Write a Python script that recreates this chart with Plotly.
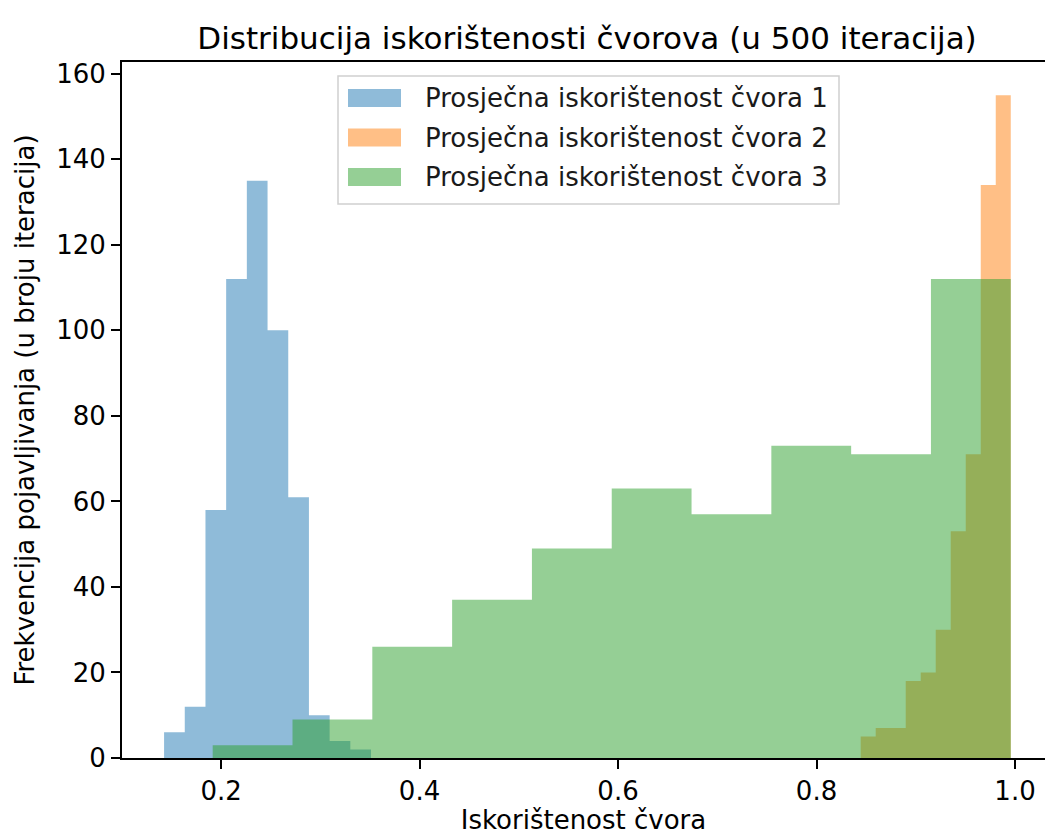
import numpy as np
import plotly.graph_objects as go

# Data (10 bins per series)
series_names = [
    "Prosječna iskorištenost čvora 1",
    "Prosječna iskorištenost čvora 2",
    "Prosječna iskorištenost čvora 3",
]
counts_1 = [6, 12, 58, 112, 135, 100, 61, 10, 4, 2]
counts_2 = [5, 7, 7, 18, 20, 30, 53, 71, 134, 155]
counts_3 = [3, 9, 26, 37, 49, 63, 57, 73, 71, 112]
range_1 = [0.1426, 0.3511]
range_2 = [0.8445, 0.9957]
range_3 = [0.1916, 0.9957]

x_ticks = [0.2, 0.4, 0.6, 0.8, 1.0]
y_ticks = [0, 20, 40, 60, 80, 100, 120, 140, 160]

fill_colors = ["rgba(31,119,180,0.5)", "rgba(255,127,14,0.5)", "rgba(44,160,44,0.5)"]
FONT = "DejaVu Sans"

# plot area in page pixels (page body margin removed below)
PL, PR, PT, PB = 122, 1045, 62, 758
PW, PH = PR - PL, PB - PT


def px_to_paper(sx, sy):
    return (sx - PL) / PW, (PB - sy) / PH


fig = go.Figure()
for name, counts, rng, col in zip(series_names, [counts_1, counts_2, counts_3],
                                  [range_1, range_2, range_3], fill_colors):
    edges = np.linspace(rng[0], rng[1], len(counts) + 1)
    ys = list(counts) + [counts[-1]]
    fig.add_trace(go.Scatter(
        x=edges, y=ys, name=name, mode="lines", line=dict(width=0, shape="hv"),
        fill="tozeroy", fillcolor=col, showlegend=False, hoverinfo="skip",
    ))

# legend (drawn as a box with colour swatches and text labels)
shapes = []
annotations = []
bx0, by0 = px_to_paper(338, 204)
bx1, by1 = px_to_paper(839, 76)
shapes.append(dict(type="rect", xref="paper", yref="paper", x0=bx0, y0=by0, x1=bx1, y1=by1,
                   line=dict(color="#d0d0d0", width=1.5), fillcolor="rgba(255,255,255,0.8)",
                   layer="above"))
row_centers = [98, 137.5, 177]
for name, col, cy in zip(series_names, fill_colors, row_centers):
    sx0, sy0 = px_to_paper(348, cy + 9)
    sx1, sy1 = px_to_paper(401, cy - 9)
    shapes.append(dict(type="rect", xref="paper", yref="paper", x0=sx0, y0=sy0, x1=sx1, y1=sy1,
                       line=dict(width=0), fillcolor=col, layer="above"))
    tx, ty = px_to_paper(423, cy)
    annotations.append(dict(text=name, xref="paper", yref="paper", x=tx, y=ty,
                            xanchor="left", yanchor="middle", showarrow=False,
                            font=dict(family=FONT, size=26, color="#1a1a1a")))

fig.update_layout(
    width=1045, height=835,
    plot_bgcolor="white", paper_bgcolor="white",
    margin=dict(l=PL, r=1045 - PR, t=PT, b=835 - PB, pad=0, autoexpand=False),
    font=dict(family=FONT, size=26, color="#000000"),
    title=dict(
        text="Distribucija iskorištenosti čvorova (u 500 iteracija)",
        x=587 / 1045, xanchor="center", xref="container",
        y=1 - 38 / 835, yanchor="middle", yref="container",
        font=dict(family=FONT, size=31, color="#000000"),
    ),
    shapes=shapes,
    annotations=annotations,
    showlegend=False,
)
fig.update_xaxes(
    range=[0.1002, 1.0302], automargin=False,
    tickvals=x_ticks, ticktext=[f"{v:.1f}" for v in x_ticks],
    ticks="outside", ticklen=9, tickwidth=2, tickcolor="black",
    showline=True, linecolor="black", linewidth=2, mirror=True,
    showgrid=False, zeroline=False,
    title=dict(text="Iskorištenost čvora", font=dict(family=FONT, size=26), standoff=8),
    tickfont=dict(family=FONT, size=26),
)
fig.update_yaxes(
    range=[0, 162.75], automargin=False,
    tickvals=y_ticks,
    ticks="outside", ticklen=9, tickwidth=2, tickcolor="black",
    showline=True, linecolor="black", linewidth=2, mirror=False,
    showgrid=False, zeroline=False,
    title=dict(text="Frekvencija pojavljivanja (u broju iteracija)",
               font=dict(family=FONT, size=26), standoff=14),
    tickfont=dict(family=FONT, size=26),
)

fig.write_html(
    "out.html",
    config={"displayModeBar": False},
    post_script="document.body.style.margin='0';document.body.style.overflow='hidden';",
)
